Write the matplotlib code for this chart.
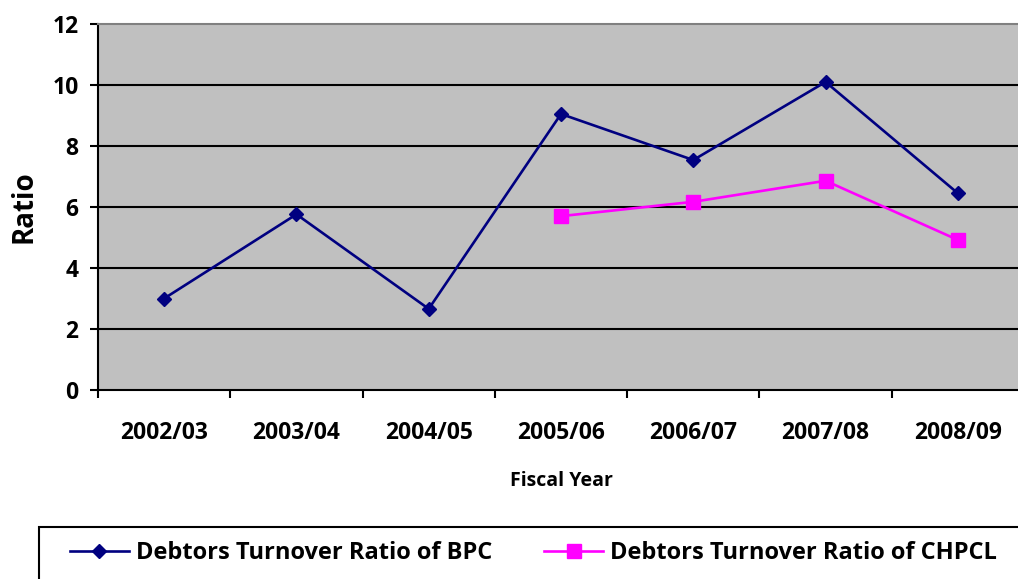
"""
Debtors turnover ratio of BPC and CHPCL by fiscal year.
"""
import numpy as np
import matplotlib.pyplot as plt
from matplotlib.patches import Rectangle

years = ['2002/03', '2003/04', '2004/05', '2005/06', '2006/07', '2007/08', '2008/09']
bpc = [3.0, 5.76, 2.66, 9.05, 7.54, 10.1, 6.45]
chpcl = [np.nan, np.nan, np.nan, 5.7, 6.17, 6.86, 4.92]
yticks = [0, 2, 4, 6, 8, 10, 12]

plt.rcParams['font.family'] = ['Open Sans', 'DejaVu Sans']
plt.rcParams['font.weight'] = 'bold'

fig = plt.figure(figsize=(10.18, 5.79), dpi=100)
ax = fig.add_axes([98 / 1018, 1 - 390 / 579, 926 / 1018, 366 / 579])
ax.set_facecolor('#C0C0C0')

x = np.arange(len(years))
ax.plot(x, bpc, color='#000080', lw=1.9, marker='D', ms=7.5,
        label='Debtors Turnover Ratio of BPC')
ax.plot(x, chpcl, color='#FF00FF', lw=1.9, marker='s', ms=10.5,
        label='Debtors Turnover Ratio of CHPCL')

ax.set_xlim(-0.5, len(years) - 0.5)
ax.set_ylim(0, 12)
ax.set_yticks(yticks)
for v in yticks[1:-1]:
    ax.axhline(v, color='black', lw=1.5, zorder=1)

ax.set_xticks(x)
ax.set_xticklabels(years)
ax.set_xticks(np.arange(len(years)) - 0.5, minor=True)
ax.tick_params(axis='x', which='major', length=0, pad=22, labelsize=16.5)
ax.tick_params(axis='x', which='minor', length=6, width=1.5, direction='out')
ax.tick_params(axis='y', length=6, width=1.5, pad=8, labelsize=16.5)

for s in ['left', 'bottom']:
    ax.spines[s].set_color('black')
    ax.spines[s].set_linewidth(1.5)
ax.spines['top'].set_color('#808080')
ax.spines['top'].set_linewidth(1.5)
ax.spines['right'].set_visible(False)

ax.set_ylabel('Ratio', fontsize=20, fontweight='bold', labelpad=10)
ax.set_xlabel('Fiscal Year', fontsize=14, fontweight='bold', labelpad=19)

# legend box below the chart
fig.patches.append(Rectangle((39 / 1018, -0.05), 1.0, 1 - 527 / 579 + 0.05,
                             transform=fig.transFigure, facecolor='white',
                             edgecolor='black', lw=1.5))
fig.legend(loc='center left', bbox_to_anchor=(58 / 1018, 1 - 553 / 579),
           ncol=2, frameon=False, fontsize=17, handlelength=2.5,
           handletextpad=0.3, columnspacing=2.2, borderpad=0)

fig.savefig('out.png', dpi=100)
